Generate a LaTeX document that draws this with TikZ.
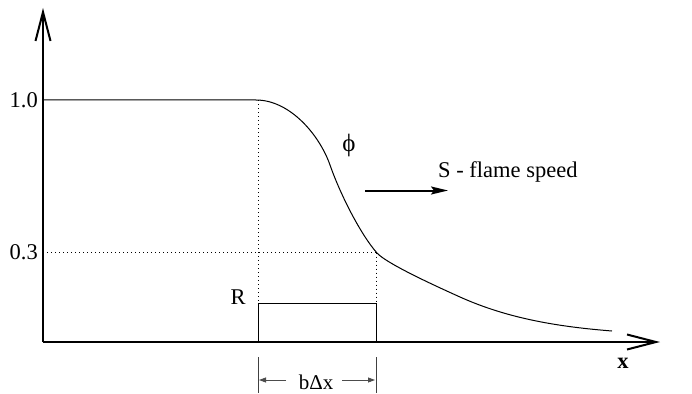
\documentclass[tikz,border=0pt]{standalone}
\usepackage{fontspec}
\setmainfont{Liberation Serif}
\usetikzlibrary{arrows.meta}
\tikzset{
  axis/.style={line width=2pt, -{Straight Barb[length=29pt,width=15pt,line width=2pt]}},
  guide/.style={line width=1pt, dash pattern=on 1pt off 3pt},
  thin line/.style={line width=1pt},
  dim arrow/.style={line width=0.8pt, draw=black!70, -{Triangle[length=7pt,width=5pt,fill=black!70]}},
  label/.style={inner sep=0pt, font=\fontsize{22.5}{25}\selectfont}
}
\begin{document}
\begin{tikzpicture}[x=1pt,y=-1pt]
\useasboundingbox (0,0) rectangle (692,393);
% coordinates
\coordinate (O) at (43,342);
\coordinate (ytop) at (43,8);
\coordinate (xend) at (660,342);
\coordinate (top1) at (43,100);
\coordinate (low1) at (43,252.5);
\coordinate (a) at (258,100);
\coordinate (a0) at (258,342);
\coordinate (b) at (376,252.5);
\coordinate (b0) at (376,342);
\coordinate (rtl) at (258,303);
\coordinate (rbr) at (376,342);
% guides
\draw[guide] (a) -- (a0);
\draw[guide] (low1) -- (b);
\draw[guide] (b) -- (b0);
% rectangle R
\draw[thin line] (rtl) rectangle (rbr);
% curve
\draw[thin line] (top1) -- (256,100) .. controls (290,100) and (319.5,135) .. (330,165)
  .. controls (340.5,195) and (361,235) .. (377,253)
  .. controls (386,263) and (430,283.5) .. (460,297)
  .. controls (510,319.5) and (562,327) .. (612,331);
% axes
\draw[axis] (O) -- (ytop);
\draw[axis] (O) -- (xend);
% labels
\node[label, anchor=east] (l10) at (38,100) {1.0};
\node[label, anchor=east] (l03) at (38,252.5) {0.3};
\node[label] (R) at (238,297) {R};
\node[inner sep=0pt, font=\fontsize{25}{27}\selectfont] (phi) at (349,145) {ϕ};
\node[label, anchor=west] (S) at (438,172) {S - flame speed};
\node[inner sep=0pt, font=\fontsize{22.5}{25}\selectfont\bfseries] (xl) at (623,363) {x};
% flame arrow
\coordinate (fa1) at (365,190.5);
\coordinate (fa2) at (448,190.5);
\draw[line width=2pt, -{Stealth[length=17pt,width=8pt,inset=3pt]}] (fa1) -- (fa2);
% dimension
\coordinate (t1a) at (258,357);
\coordinate (t1b) at (258,393);
\coordinate (t2a) at (376,357);
\coordinate (t2b) at (376,393);
\draw[line width=1pt, draw=black!75] (t1a) -- (t1b);
\draw[line width=1pt, draw=black!75] (t2a) -- (t2b);
\coordinate (d1s) at (286,380);
\coordinate (d1e) at (259,380);
\coordinate (d2s) at (342,380);
\coordinate (d2e) at (375,380);
\draw[dim arrow] (d1s) -- (d1e);
\draw[dim arrow] (d2s) -- (d2e);
\node[label, font=\fontsize{21}{23}\selectfont] (bdx) at (316,382) {bΔx};
\end{tikzpicture}
\end{document}
